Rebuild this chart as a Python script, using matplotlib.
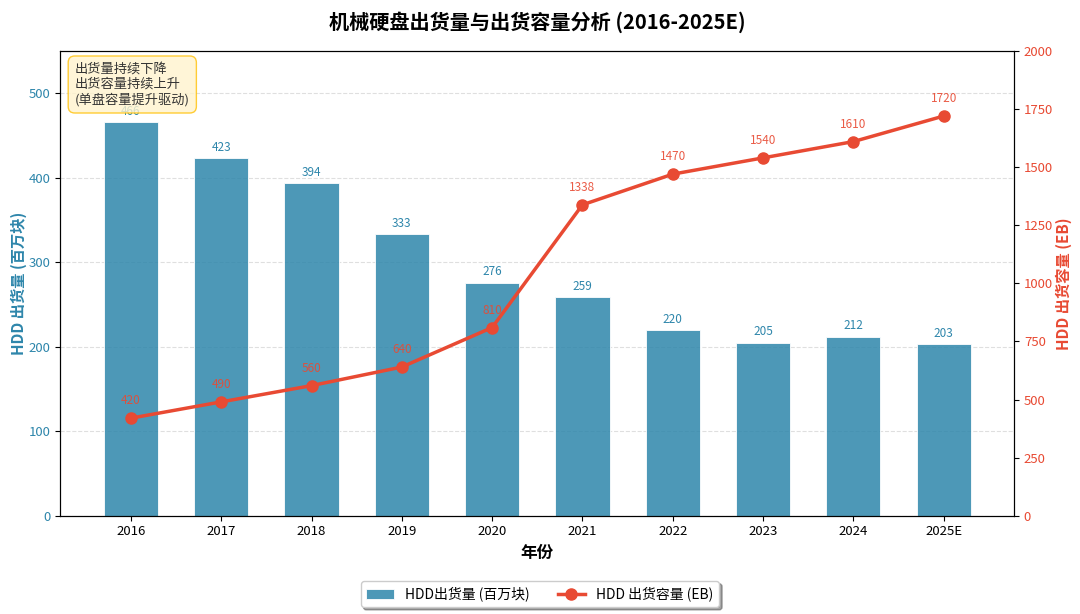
import matplotlib
matplotlib.use("Agg")
from matplotlib import pyplot as plt
import numpy as np

plt.rcParams['font.family'] = ['Noto Sans CJK SC', 'DejaVu Sans']
plt.rcParams['axes.unicode_minus'] = False

years = ['2016', '2017', '2018', '2019', '2020', '2021', '2022', '2023', '2024', '2025E']
shipments = [466, 423, 394, 333, 276, 259, 220, 205, 212, 203]
capacity = [420, 490, 560, 640, 810, 1338, 1470, 1540, 1610, 1720]

bar_color = '#2E86AB'
line_color = '#E84A33'

fig, ax = plt.subplots(figsize=(10.8, 6.14), dpi=100)
x = np.arange(len(years))

bars = ax.bar(x, shipments, width=0.6, color=bar_color, alpha=0.85,
              edgecolor='white', linewidth=0.7, label='HDD出货量 (百万块)', zorder=2)
for xi, v in zip(x, shipments):
    ax.text(xi, v + 5, str(v), ha='center', va='bottom', fontsize=8.5, color=bar_color)

ax.set_ylim(0, 550)
ax.set_xticks(x)
ax.set_xticklabels(years, fontsize=9.5)
ax.set_xlabel('年份', fontsize=12, fontweight='bold')
ax.set_ylabel('HDD 出货量 (百万块)', fontsize=11, fontweight='bold', color=bar_color, labelpad=1)
ax.tick_params(axis='y', labelcolor=bar_color, labelsize=9.5)
ax.grid(axis='y', linestyle='--', alpha=0.4, zorder=0)
ax.set_axisbelow(True)

ax2 = ax.twinx()
ax2.plot(x, capacity, color=line_color, linewidth=2.5, marker='o', markersize=8,
         label='HDD 出货容量 (EB)', zorder=3)
for xi, v in zip(x, capacity):
    ax2.annotate(str(v), (xi, v), textcoords='offset points', xytext=(0, 10),
                 ha='center', fontsize=8.5, color=line_color, alpha=0.9)
ax2.set_ylim(0, 2000)
ax2.set_ylabel('HDD 出货容量 (EB)', fontsize=11, fontweight='bold', color=line_color, labelpad=2)
ax2.tick_params(axis='y', labelcolor=line_color, labelsize=9.5)

ax.text(0.015, 0.975, '出货量持续下降\n出货容量持续上升\n(单盘容量提升驱动)',
        transform=ax.transAxes, ha='left', va='top', fontsize=9.5, color='#333333',
        bbox=dict(boxstyle='round,pad=0.5', facecolor='#FFF3CD', edgecolor='#FFC107', alpha=0.8))

h1, l1 = ax.get_legend_handles_labels()
h2, l2 = ax2.get_legend_handles_labels()
fig.legend(h1 + h2, l1 + l2, loc='lower center', ncol=2, fontsize=10,
           bbox_to_anchor=(0.5, 0.0), frameon=True, shadow=True, fancybox=True)

ax.set_title('机械硬盘出货量与出货容量分析 (2016-2025E)', fontsize=14.5, fontweight='bold', pad=16)

fig.subplots_adjust(left=0.056, right=0.939, top=0.917, bottom=0.16)
fig.savefig('out.png', dpi=100)
